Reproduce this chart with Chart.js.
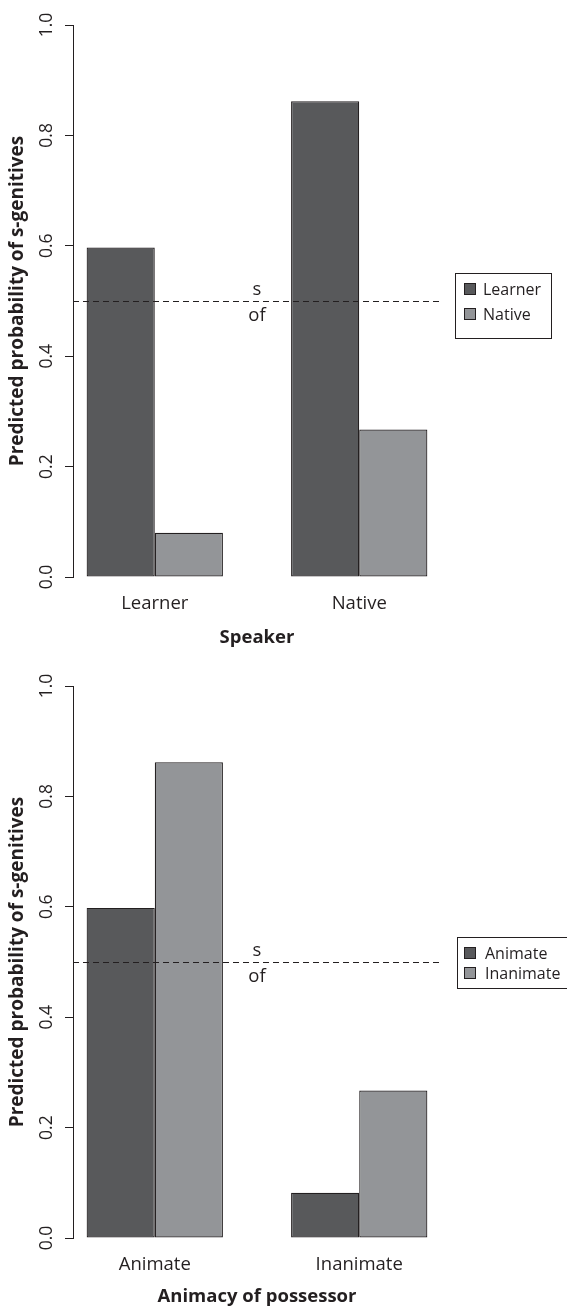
<!DOCTYPE html>
<html lang="en">
<head>
<meta charset="UTF-8">
<title>Predicted probability of s-genitives</title>
<style>
  html, body { margin: 0; padding: 0; background: #fff; }
  body { width: 567px; height: 1309px; position: relative; overflow: hidden; }
  canvas { position: absolute; left: 0; }
</style>
</head>
<body>
<canvas id="speakerChart" width="567" height="655" style="top:0px"></canvas>
<canvas id="animacyChart" width="567" height="654" style="top:655px"></canvas>

<script src="https://cdn.jsdelivr.net/npm/chart.js"></script>
<script>
// data
const yTicks = [0, 0.2, 0.4, 0.6, 0.8, 1.0];
const refLine = 0.5;

const speakerCats = ['Learner', 'Native'];
const speakerSeries = ['Learner', 'Native'];
const speakerLearner = [0.597, 0.862];
const speakerNative = [0.080, 0.267];

const animacyCats = ['Animate', 'Inanimate'];
const animacySeries = ['Animate', 'Inanimate'];
const animacyAnimate = [0.598, 0.082];
const animacyInanimate = [0.862, 0.267];

const dark = '#58595b', light = '#939598', ink = '#231f20';
const FONT = '"Open Sans", "DejaVu Sans", sans-serif';

// dashed 0.5 line with "s" / "of"
const sOfLine = {
  id: 'sOfLine',
  afterDatasetsDraw(chart) {
    const {ctx, chartArea: a, scales: {y}} = chart;
    const py = Math.round(y.getPixelForValue(refLine)) + 0.5;
    ctx.save();
    ctx.strokeStyle = ink;
    ctx.lineWidth = 1;
    ctx.setLineDash([6, 4]);
    ctx.beginPath();
    ctx.moveTo(a.left, py);
    ctx.lineTo(a.right, py);
    ctx.stroke();
    ctx.setLineDash([]);
    ctx.fillStyle = ink;
    ctx.font = '18.5px ' + FONT;
    ctx.textAlign = 'center';
    ctx.textBaseline = 'alphabetic';
    const cx = (a.left + a.right) / 2;
    ctx.fillText('s', cx, py - 7);
    ctx.fillText('of', cx, py + 19);
    ctx.restore();
  }
};

// boxed legend to the right of the plot
const boxLegend = {
  id: 'boxLegend',
  afterDraw(chart, args, o) {
    const {ctx, chartArea: a, scales: {y}} = chart;
    const sets = chart.data.datasets;
    const py = y.getPixelForValue(refLine);
    ctx.save();
    ctx.font = '16px ' + FONT;
    const tw = Math.max(...sets.map(d => ctx.measureText(d.label).width));
    const left = a.right + o.dx;
    const first = py + o.first;
    const last = first + o.gap * (sets.length - 1);
    const top = first - o.padTop, bottom = last + o.padBottom;
    const w = o.padLeft + 12 + o.textGap + tw + 10;
    ctx.strokeStyle = ink;
    ctx.lineWidth = 1;
    ctx.strokeRect(Math.round(left) + 0.5, Math.round(top) + 0.5, Math.round(w), Math.round(bottom - top));
    ctx.textAlign = 'left';
    ctx.textBaseline = 'middle';
    sets.forEach((d, k) => {
      const ry = first + o.gap * k;
      const sx = Math.round(left + o.padLeft) + 0.5, sy = Math.round(ry - 6) + 0.5;
      ctx.fillStyle = d.backgroundColor;
      ctx.fillRect(sx, sy, 11, 11);
      ctx.strokeRect(sx, sy, 11, 11);
      ctx.fillStyle = ink;
      ctx.fillText(d.label, left + o.padLeft + 12 + o.textGap, ry + 1);
    });
    ctx.restore();
  }
};

function makeChart(id, cats, series, values, opts) {
  return new Chart(document.getElementById(id), {
    type: 'bar',
    data: {
      datasets: series.map((name, k) => ({
        label: name,
        data: values[k].map((v, i) => ({x: 2 + 3 * i, y: v})),
        backgroundColor: [dark, light][k],
        borderColor: ink,
        borderWidth: 1.2,
        borderSkipped: false,
        categoryPercentage: 2 / 3,
        barPercentage: 1
      }))
    },
    options: {
      responsive: false,
      animation: false,
      devicePixelRatio: 1,
      layout: { padding: { top: opts.top, right: 126, left: 0, bottom: 0 } },
      plugins: {
        legend: { display: false },
        tooltip: { enabled: false },
        boxLegend: opts.legend
      },
      scales: {
        x: {
          type: 'linear', min: 0.8, max: 6.2, offset: false,
          afterBuildTicks: s => { s.ticks = cats.map((c, i) => ({value: 2 + 3 * i})); },
          afterFit: s => { s.height = opts.xHeight; },
          grid: { display: false, drawTicks: false },
          border: { display: false },
          ticks: {
            callback: (v, i) => cats[i],
            color: ink, font: { family: FONT, size: 18.5 },
            padding: 16, maxRotation: 0, autoSkip: false
          },
          title: {
            display: true, text: opts.xTitle, color: ink,
            font: { family: FONT, size: 18.5, weight: 'bold' },
            padding: { top: 0, bottom: opts.titlePad }
          }
        },
        y: {
          min: 0, max: 1,
          afterBuildTicks: s => { s.ticks = yTicks.map(v => ({value: v})); },
          afterFit: s => { s.width = 73; },
          grid: { drawOnChartArea: false, drawTicks: true, tickLength: 8, color: ink },
          border: { display: true, color: ink },
          ticks: {
            callback: v => v.toFixed(1),
            color: ink, font: { family: FONT, size: 17.5 },
            padding: 6, minRotation: 90, maxRotation: 90, crossAlign: 'center'
          },
          title: {
            display: true, text: 'Predicted probability of s-genitives', color: ink,
            font: { family: FONT, size: 19, weight: 'bold' },
            padding: { top: 6, bottom: 0 }
          }
        }
      }
    },
    plugins: [sOfLine, boxLegend]
  });
}

makeChart('speakerChart', speakerCats, speakerSeries, [speakerLearner, speakerNative], {
  top: 25, xHeight: 78, titlePad: 6, xTitle: 'Speaker',
  legend: { dx: 14, first: -12, gap: 25, padTop: 16, padBottom: 24, padLeft: 9, textGap: 7 }
});

makeChart('animacyChart', animacyCats, animacySeries, [animacyAnimate, animacyInanimate], {
  top: 31, xHeight: 71, titlePad: 1, xTitle: 'Animacy of possessor',
  legend: { dx: 16, first: -9, gap: 20, padTop: 16, padBottom: 15, padLeft: 7, textGap: 9 }
});
</script>
</body>
</html>
